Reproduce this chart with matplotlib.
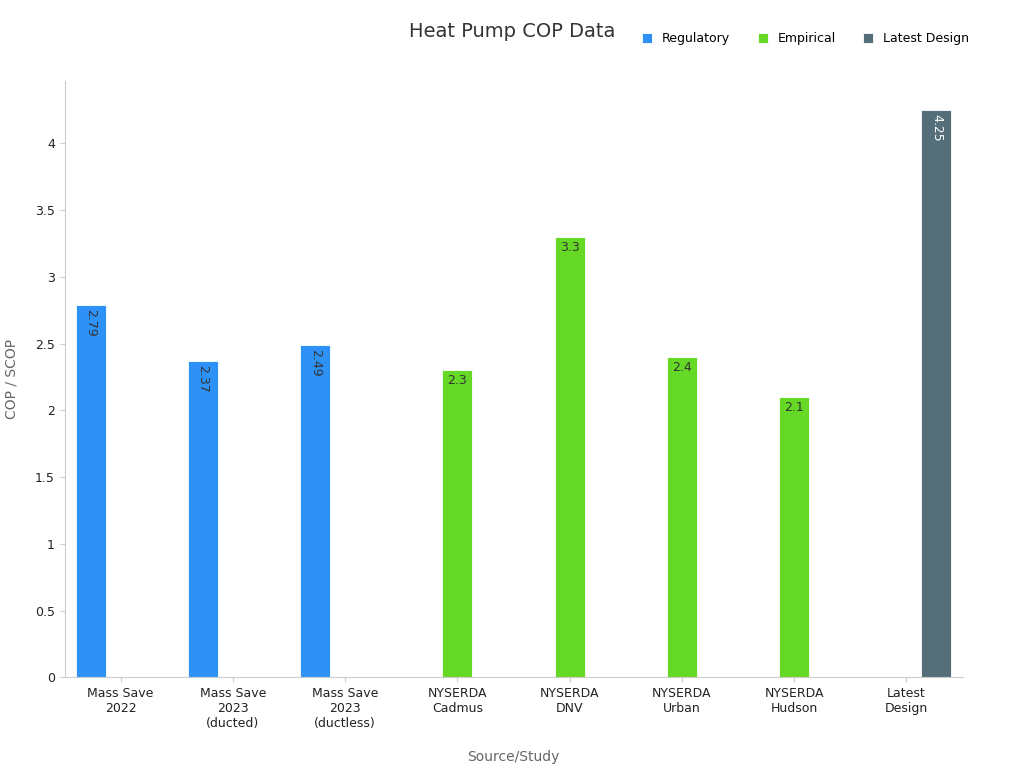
import matplotlib
matplotlib.use("Agg")
import matplotlib.pyplot as plt
import numpy as np

categories = ["Mass Save\n2022", "Mass Save\n2023\n(ducted)", "Mass Save\n2023\n(ductless)",
              "NYSERDA\nCadmus", "NYSERDA\nDNV", "NYSERDA\nUrban", "NYSERDA\nHudson", "Latest\nDesign"]
regulatory = [2.79, 2.37, 2.49, None, None, None, None, None]
empirical = [None, None, None, 2.3, 3.3, 2.4, 2.1, None]
latest = [None, None, None, None, None, None, None, 4.25]

series = [("Regulatory", regulatory, "#2e91f5", -0.267, "#333333"),
          ("Empirical", empirical, "#66d927", 0.0, "#333333"),
          ("Latest Design", latest, "#546e7a", 0.267, "white")]

fig, ax = plt.subplots(figsize=(10.24, 7.68), dpi=100)
fig.subplots_adjust(left=0.063, right=0.94, top=0.895, bottom=0.118)
x = np.arange(len(categories))
w = 0.267
for name, vals, color, off, tcolor in series:
    xs = [xi + off for xi, v in zip(x, vals) if v is not None]
    ys = [v for v in vals if v is not None]
    ax.bar(xs, ys, width=w, color=color, edgecolor="white", linewidth=0.6, label=name)
    for xi, v in zip(xs, ys):
        txt = f"{v:g}"
        if len(txt) > 3:
            ax.text(xi, v - 0.03, txt, rotation=-90, ha="center", va="top", fontsize=9, color=tcolor)
        else:
            ax.text(xi, v - 0.03, txt, ha="center", va="top", fontsize=9, color=tcolor)

ax.set_xlim(-0.5, len(categories) - 0.5)
ax.set_ylim(0, 4.47)
ax.set_xticks(x)
ax.set_xticklabels(categories, fontsize=9, color="#222222")
ax.set_yticks(np.arange(0, 4.01, 0.5))
ax.set_yticklabels(["0", "0.5", "1", "1.5", "2", "2.5", "3", "3.5", "4"], fontsize=9, color="#222222")
ax.set_xlabel("Source/Study", fontsize=10, color="#666666", labelpad=14)
ax.set_ylabel("COP / SCOP", fontsize=10, color="#666666", labelpad=12)
for s in ["top", "right"]:
    ax.spines[s].set_visible(False)
for s in ["left", "bottom"]:
    ax.spines[s].set_color("#cccccc")
ax.tick_params(colors="#cccccc", labelcolor="#222222")
fig.suptitle("Heat Pump COP Data", fontsize=14, color="#333333", y=0.972)
ax.legend(loc="upper right", bbox_to_anchor=(1.02, 1.1), ncol=3, frameon=False, fontsize=9,
          handlelength=0.8, handleheight=0.8, columnspacing=2.2)
fig.savefig("out.png")
